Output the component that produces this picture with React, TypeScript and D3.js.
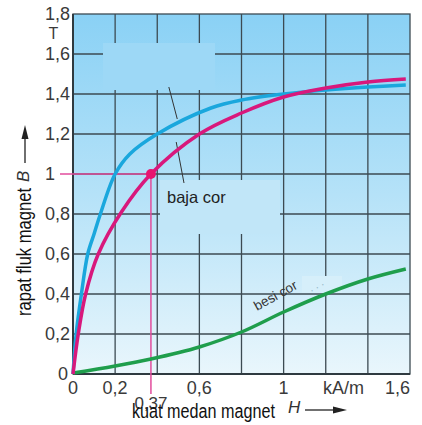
import React from "react";
import * as d3 from "d3";

const xTicks = [0, 0.2, 0.6, 1, 1.6];
const xTickLabels = ["0", "0,2", "0,6", "1", "1,6"];
const yTicks = [0, 0.2, 0.4, 0.6, 0.8, 1, 1.2, 1.4, 1.6, 1.8];
const yTickLabels = ["0", "0,2", "0,4", "0,6", "0,8", "1", "1,2", "1,4", "1,6", "1,8"];
const xGrid = [0.2, 0.4, 0.6, 0.8, 1.0, 1.2, 1.4];
const yGrid = [0.2, 0.4, 0.6, 0.8, 1.0, 1.2, 1.4, 1.6];

// cyan curve (label erased in original)
const cyanH = [0, 0.015, 0.04, 0.07, 0.1, 0.13, 0.2, 0.27, 0.4, 0.655, 0.8, 1.0, 1.2, 1.4, 1.58];
const cyanB = [0, 0.2, 0.4, 0.6, 0.7, 0.8, 1.0, 1.1, 1.2, 1.33, 1.37, 1.4, 1.42, 1.435, 1.445];
// baja cor (magenta)
const magH = [0, 0.025, 0.06, 0.12, 0.23, 0.37, 0.6, 0.8, 1.0, 1.2, 1.4, 1.58];
const magB = [0, 0.2, 0.4, 0.6, 0.81, 1.0, 1.2, 1.305, 1.385, 1.43, 1.46, 1.475];
// besi cor (green)
const greenH = [0, 0.2, 0.37, 0.6, 0.8, 1.0, 1.2, 1.4, 1.58];
const greenB = [0.005, 0.04, 0.075, 0.135, 0.21, 0.31, 0.4, 0.475, 0.525];

const markH = 0.37;
const markB = 1.0;

const W = 422;
const H = 425;

export default function App() {
  const x = d3.scaleLinear().domain([0, 1.6]).range([73, 410]);
  const y = d3.scaleLinear().domain([0, 1.8]).range([374, 14]);

  const lineC = d3
    .line<[number, number]>()
    .x((d) => x(d[0]))
    .y((d) => y(d[1]))
    .curve(d3.curveCatmullRom.alpha(0.5));
  const lineX = d3
    .line<[number, number]>()
    .x((d) => x(d[0]))
    .y((d) => y(d[1]))
    .curve(d3.curveMonotoneX);

  const pts = (hs: number[], bs: number[]) => hs.map((h, i) => [h, bs[i]] as [number, number]);

  const tickFont = "'Liberation Sans Narrow', 'Liberation Sans', Arial, sans-serif";
  const tickColor = "#3a3a3a";
  const gridColor = "#3c4a52";

  return (
    <svg
      width={W}
      height={H}
      style={{ position: "absolute", left: 0, top: 0, background: "#fff" }}
    >
      <defs>
        <linearGradient id="bg" x1="0" y1="0" x2="0" y2="1">
          <stop offset="0" stopColor="#8ad1f5" />
          <stop offset="0.5" stopColor="#b5e2f8" />
          <stop offset="1" stopColor="#e9f6fc" />
        </linearGradient>
      </defs>

      {/* plot background */}
      <rect x={x(0)} y={y(1.8)} width={x(1.6) - x(0)} height={y(0) - y(1.8)} fill="url(#bg)" />

      {/* grid */}
      {xGrid.map((g) => (
        <line key={"vx" + g} x1={x(g)} x2={x(g)} y1={y(0)} y2={y(1.8)} stroke={gridColor} strokeWidth={1.3} />
      ))}
      {yGrid.map((g) => (
        <line key={"hy" + g} x1={x(0)} x2={x(1.6)} y1={y(g)} y2={y(g)} stroke={gridColor} strokeWidth={1.3} />
      ))}

      {/* erased label boxes */}
      <rect x={103} y={43} width={112} height={47} fill="#9dd8f6" />
      <rect x={160} y={180} width={120} height={54} fill="#c1e6f8" />
      <rect x={302} y={276} width={40} height={17} fill="#d6effa" />

      {/* border */}
      <rect x={x(0)} y={y(1.8)} width={x(1.6) - x(0)} height={y(0) - y(1.8)} fill="none" stroke={gridColor} strokeWidth={1.3} />
      <line x1={x(0)} x2={x(0)} y1={y(0)} y2={y(1.8)} stroke="#2f3a40" strokeWidth={2} />
      <line x1={x(0)} x2={x(1.6)} y1={y(0)} y2={y(0)} stroke="#2f3a40" strokeWidth={2} />

      {/* leader lines */}
      <line x1={x(0.455)} y1={y(1.435)} x2={x(0.495)} y2={y(1.275)} stroke="#333" strokeWidth={1} />
      <line x1={x(0.49)} y1={y(1.16)} x2={x(0.527)} y2={y(0.955)} stroke="#333" strokeWidth={1} />

      {/* pink reference lines */}
      <line x1={60} x2={x(markH)} y1={y(markB)} y2={y(markB)} stroke="#e24c9c" strokeWidth={1.5} />
      <line x1={x(markH)} x2={x(markH)} y1={y(markB)} y2={394} stroke="#e24c9c" strokeWidth={1.5} />

      {/* curves */}
      <path d={lineX(pts(greenH, greenB)) || ""} fill="none" stroke="#1f9e4c" strokeWidth={3.5} />
      <path d={lineC(pts(cyanH, cyanB)) || ""} fill="none" stroke="#1aa7dd" strokeWidth={3.5} />
      <path d={lineC(pts(magH, magB)) || ""} fill="none" stroke="#d8187c" strokeWidth={3.5} />
      <circle cx={x(markH)} cy={y(markB)} r={5} fill="#e8146f" />

      {/* annotations */}
      <text x={167} y={203} fontFamily="'Liberation Sans', Arial, sans-serif" fontSize={16.5} fill="#222">
        baja cor
      </text>
      <text
        x={257}
        y={311}
        fontFamily="'Liberation Sans', Arial, sans-serif"
        fontSize={13.5}
        fill="#333"
        transform="rotate(-29 257 311)"
      >
        besi cor
      </text>
      <text
        x={311}
        y={292}
        fontFamily="'Liberation Sans', Arial, sans-serif"
        fontSize={11}
        fill="#8fb3c4"
        transform="rotate(-29 311 292)"
      >
        . . .
      </text>

      {/* y tick labels */}
      {yTicks.map((t, i) => (
        <text
          key={"yt" + t}
          x={t === 0 ? 58 : 45}
          y={y(t) + 6}
          fontFamily={tickFont}
          fontSize={18}
          fill={tickColor}
        >
          {yTickLabels[i]}
        </text>
      ))}
      <text x={53.5} y={39} textAnchor="middle" fontFamily={tickFont} fontSize={16} fill={tickColor}>
        T
      </text>

      {/* x tick labels */}
      {xTicks.map((t, i) => (
        <text
          key={"xt" + t}
          x={x(t)}
          y={394}
          textAnchor={t === 1.6 ? "end" : "middle"}
          fontFamily={tickFont}
          fontSize={18}
          fill={tickColor}
        >
          {xTickLabels[i]}
        </text>
      ))}
      <text x={323} y={394} fontFamily={tickFont} fontSize={18} fill={tickColor}>
        kA/m
      </text>
      <text x={x(markH)} y={409} textAnchor="middle" fontFamily={tickFont} fontSize={17} fill={tickColor}>
        0,37
      </text>

      {/* x axis title */}
      <text
        x={132}
        y={418}
        fontFamily={tickFont}
        fontSize={20}
        fill="#111"
        textLength={143}
        lengthAdjust="spacingAndGlyphs"
      >
        kuat medan magnet
      </text>
      <text x={288} y={413} fontFamily={tickFont} fontSize={17} fontStyle="italic" fill="#333">
        H
      </text>
      <line x1={305} x2={336} y1={410} y2={410} stroke="#222" strokeWidth={1.3} />
      <path d="M 347 410 L 333 406.5 L 333 413.5 Z" fill="#222" />

      {/* y axis title */}
      <g transform="translate(31 316) rotate(-90)">
        <text
          x={0}
          y={0}
          fontFamily={tickFont}
          fontSize={20}
          fill="#111"
          textLength={128}
          lengthAdjust="spacingAndGlyphs"
        >
          rapat fluk magnet
        </text>
        <text x={134} y={-2} fontFamily={tickFont} fontSize={17} fontStyle="italic" fill="#333">
          B
        </text>
      </g>
      <line x1={25} x2={25} y1={163} y2={136} stroke="#222" strokeWidth={1.3} />
      <path d="M 25 125 L 21.5 139 L 28.5 139 Z" fill="#222" />
    </svg>
  );
}
